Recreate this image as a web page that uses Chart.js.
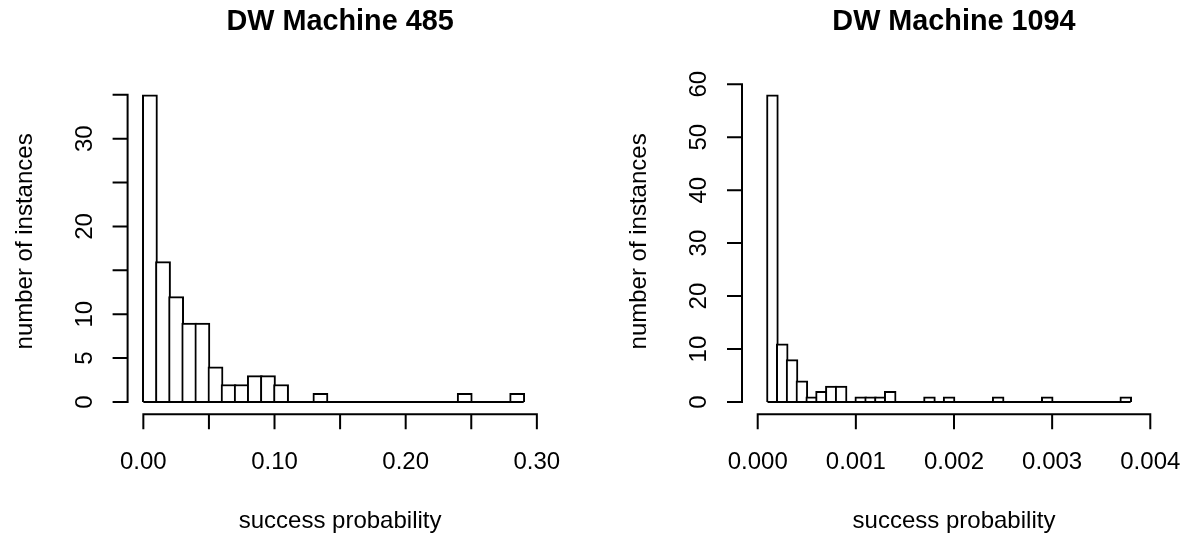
<!DOCTYPE html>
<html>
<head>
<meta charset="utf-8">
<script src="https://cdn.jsdelivr.net/npm/chart.js@4.4.1/dist/chart.umd.min.js"></script>
<style>
html,body{margin:0;padding:0;background:#fff;}
#wrap{position:relative;width:1186px;height:536px;display:flex;overflow:hidden;}
canvas{display:block;}
</style>
</head>
<body>
<div id="wrap"><canvas id="c1" width="593" height="536"></canvas><canvas id="c2" width="593" height="536"></canvas></div>
<script>
// ---------- data: left panel ----------
const titleA = 'DW Machine 485';
const binEdgesA = [0.00,0.01,0.02,0.03,0.04,0.05,0.06,0.07,0.08,0.09,0.10,0.11,0.12,0.13,0.14,0.15,0.16,0.17,0.18,0.19,0.20,0.21,0.22,0.23,0.24,0.25,0.26,0.27,0.28,0.29];
const countsA = [35,16,12,9,9,4,2,2,3,3,2,0,0,1,0,0,0,0,0,0,0,0,0,0,1,0,0,0,1];
const xLimA = [0, 0.30];
const xTicksA = [0,0.05,0.10,0.15,0.20,0.25,0.30];
const xTickLabelsA = ['0.00','','0.10','','0.20','','0.30'];
const yTicksA = [0,5,10,15,20,25,30,35];
const yTickLabelsA = ['0','5','10','','20','','30',''];

// ---------- data: right panel ----------
const titleB = 'DW Machine 1094';
const binEdgesB = [0.0001,0.0002,0.0003,0.0004,0.0005,0.0006,0.0007,0.0008,0.0009,0.0010,0.0011,0.0012,0.0013,0.0014,0.0015,0.0016,0.0017,0.0018,0.0019,0.0020,0.0021,0.0022,0.0023,0.0024,0.0025,0.0026,0.0027,0.0028,0.0029,0.0030,0.0031,0.0032,0.0033,0.0034,0.0035,0.0036,0.0037,0.0038];
const countsB = [58,11,8,4,1,2,3,3,0,1,1,1,2,0,0,0,1,0,1,0,0,0,0,1,0,0,0,0,1,0,0,0,0,0,0,0,1];
const xLimB = [0, 0.004];
const xTicksB = [0,0.001,0.002,0.003,0.004];
const xTickLabelsB = ['0.000','0.001','0.002','0.003','0.004'];
const yTicksB = [0,10,20,30,40,50,60];
const yTickLabelsB = ['0','10','20','30','40','50','60'];

// ---------- shared labels ----------
const xTitle = 'success probability';
const yTitle = 'number of instances';

// ---------- styling ----------
const FONT = '"Liberation Sans", Arial, Helvetica, sans-serif';
const AXIS_PX = 24, TITLE_PX = 28.8;
const LW = 2, TICK = 15;
const CW = 593, CH = 536;
const PAD_TOP = 82.5, PAD_BOTTOM = 121.7;

const rAxes = {
  id: 'rAxes',
  afterDraw(chart, args, o) {
    const {ctx, chartArea: ca} = chart;
    const xs = chart.scales.x, ys = chart.scales.y;
    ctx.save();
    ctx.strokeStyle = '#000';
    ctx.fillStyle = '#000';
    ctx.lineWidth = LW;
    ctx.lineCap = 'butt';
    // x axis
    const yb = ca.bottom;
    ctx.beginPath();
    ctx.moveTo(xs.getPixelForValue(o.xTicks[0]) - LW/2, yb);
    ctx.lineTo(xs.getPixelForValue(o.xTicks[o.xTicks.length-1]) + LW/2, yb);
    o.xTicks.forEach(v => { const p = xs.getPixelForValue(v); ctx.moveTo(p, yb); ctx.lineTo(p, yb + TICK); });
    ctx.stroke();
    // y axis
    const xl = ca.left;
    ctx.beginPath();
    ctx.moveTo(xl, ys.getPixelForValue(o.yTicks[0]) + LW/2);
    ctx.lineTo(xl, ys.getPixelForValue(o.yTicks[o.yTicks.length-1]) - LW/2);
    o.yTicks.forEach(v => { const p = ys.getPixelForValue(v); ctx.moveTo(xl, p); ctx.lineTo(xl - TICK, p); });
    ctx.stroke();
    // tick labels
    ctx.font = AXIS_PX + 'px ' + FONT;
    ctx.textAlign = 'center';
    ctx.textBaseline = 'alphabetic';
    o.xTicks.forEach((v, i) => { if (o.xLabels[i]) ctx.fillText(o.xLabels[i], xs.getPixelForValue(v), yb + 55); });
    o.yTicks.forEach((v, i) => {
      if (!o.yLabels[i]) return;
      ctx.save();
      ctx.translate(xl - 36, ys.getPixelForValue(v));
      ctx.rotate(-Math.PI/2);
      ctx.fillText(o.yLabels[i], 0, 0);
      ctx.restore();
    });
    // axis titles
    const cx = (ca.left + ca.right) / 2;
    ctx.fillText(xTitle, cx, yb + 114);
    ctx.save();
    ctx.translate(xl - 96, (ca.top + ca.bottom) / 2 - 7);
    ctx.rotate(-Math.PI/2);
    ctx.fillText(yTitle, 0, 0);
    ctx.restore();
    // main title
    ctx.font = 'bold ' + TITLE_PX + 'px ' + FONT;
    ctx.fillText(o.title, cx, 29.5);
    ctx.restore();
  }
};

function makeHist(id, d, padLeft, padRight) {
  const ymax = Math.max(...d.counts);
  const xr = d.xLim[1] - d.xLim[0];
  const xMin = d.xLim[0] - 0.04 * xr, xMax = d.xLim[1] + 0.04 * xr;
  const yMin = -0.04 * ymax, yMax = ymax + 0.04 * ymax;
  const bars = d.counts.map((c, i) => ({x: (d.edges[i] + d.edges[i+1]) / 2, y: c}));
  const base = [{x: d.edges[0], y: 0}, {x: d.edges[d.edges.length-1], y: 0}];
  const plotW = CW - padLeft - padRight;
  const binPx = plotW * (d.edges[1] - d.edges[0]) / (xMax - xMin);
  return new Chart(document.getElementById(id), {
    type: 'bar',
    data: {
      datasets: [
        { type: 'bar', data: bars, backgroundColor: '#ffffff', borderColor: '#000000',
          borderWidth: LW, borderSkipped: 'start', barThickness: binPx + LW, order: 2 },
        { type: 'line', data: base, borderColor: '#000000', borderWidth: LW,
          pointRadius: 0, fill: false, order: 1 }
      ]
    },
    options: {
      responsive: false, animation: false, devicePixelRatio: 1, events: [],
      layout: { padding: { left: padLeft, right: padRight, top: PAD_TOP, bottom: PAD_BOTTOM } },
      plugins: {
        legend: { display: false }, tooltip: { enabled: false }, title: { display: false },
        rAxes: { title: d.title, xTicks: d.xTicks, xLabels: d.xLabels, yTicks: d.yTicks, yLabels: d.yLabels }
      },
      scales: {
        x: { type: 'linear', min: xMin, max: xMax, offset: false, display: false,
             afterBuildTicks: s => { s.ticks = d.xTicks.map(v => ({value: v})); } },
        y: { type: 'linear', min: yMin, max: yMax, display: false,
             afterBuildTicks: s => { s.ticks = d.yTicks.map(v => ({value: v})); } }
      }
    },
    plugins: [rAxes]
  });
}

makeHist('c1', { title: titleA, edges: binEdgesA, counts: countsA, xLim: xLimA,
  xTicks: xTicksA, xLabels: xTickLabelsA, yTicks: yTicksA, yLabels: yTickLabelsA }, 127.6, 40.4);
makeHist('c2', { title: titleB, edges: binEdgesB, counts: countsB, xLim: xLimB,
  xTicks: xTicksB, xLabels: xTickLabelsB, yTicks: yTicksB, yLabels: yTickLabelsB }, 149, 20);
</script>
</body>
</html>
